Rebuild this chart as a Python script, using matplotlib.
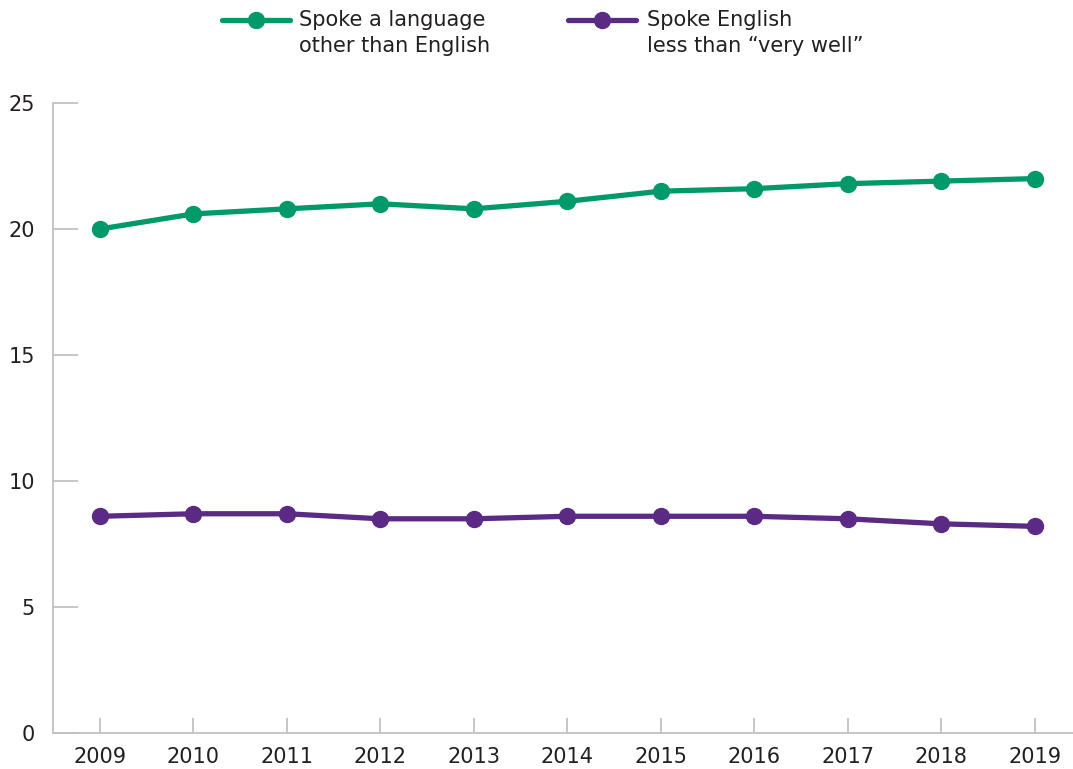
import matplotlib
matplotlib.use('Agg')
import matplotlib.pyplot as plt
from matplotlib.lines import Line2D

plt.rcParams['font.family'] = ['DejaVu Sans']

years = [2009, 2010, 2011, 2012, 2013, 2014, 2015, 2016, 2017, 2018, 2019]
other_language = [20.0, 20.6, 20.8, 21.0, 20.8, 21.1, 21.5, 21.6, 21.8, 21.9, 22.0]
less_than_very_well = [8.6, 8.7, 8.7, 8.5, 8.5, 8.6, 8.6, 8.6, 8.5, 8.3, 8.2]
labels = [['Spoke a language', 'other than English'],
          ['Spoke English', 'less than \u201cvery well\u201d']]
green = '#00996a'
purple = '#5b2a84'
axis_grey = '#c2c2c2'
text_color = '#231f20'

W, H = 1073, 769
fig = plt.figure(figsize=(W / 100, H / 100), dpi=100)
ax = fig.add_axes([53 / W, 36 / H, 1 - 53 / W, 630 / H])

ax.plot(years, other_language, color=green, lw=3.8, marker='o', ms=11.5)
ax.plot(years, less_than_very_well, color=purple, lw=3.8, marker='o', ms=11.5)

ax.set_xlim(2008.497, 2019.41)
ax.set_ylim(0, 25)
ax.set_xticks(years)
ax.set_yticks([0, 5, 10, 15, 20, 25])

for side in ['top', 'right']:
    ax.spines[side].set_visible(False)
for side in ['left', 'bottom']:
    ax.spines[side].set_color(axis_grey)
    ax.spines[side].set_linewidth(1.3)

ax.tick_params(axis='y', direction='in', length=18, width=1.3, color=axis_grey,
               labelsize=15, labelcolor=text_color, pad=13)
ax.tick_params(axis='x', direction='in', length=11, width=1.3, color=axis_grey,
               labelsize=15, labelcolor=text_color, pad=10)

# legend drawn by hand: key aligned with the first text line
for (x0, x1, tx), color, lines in zip([(222, 290, 299), (568, 636, 647)],
                                      [green, purple], labels):
    fig.add_artist(Line2D([x0 / W, x1 / W], [1 - 20 / H] * 2, color=color, lw=3.8,
                          transform=fig.transFigure, solid_capstyle='round'))
    fig.add_artist(Line2D([(x0 + x1) / 2 / W], [1 - 20 / H], color=color, marker='o',
                          ms=11.5, transform=fig.transFigure))
    for i, line in enumerate(lines):
        fig.text(tx / W, 1 - (20 + 26 * i) / H, line, fontsize=15, color=text_color,
                 ha='left', va='center')

fig.savefig('out.png', dpi=100)
